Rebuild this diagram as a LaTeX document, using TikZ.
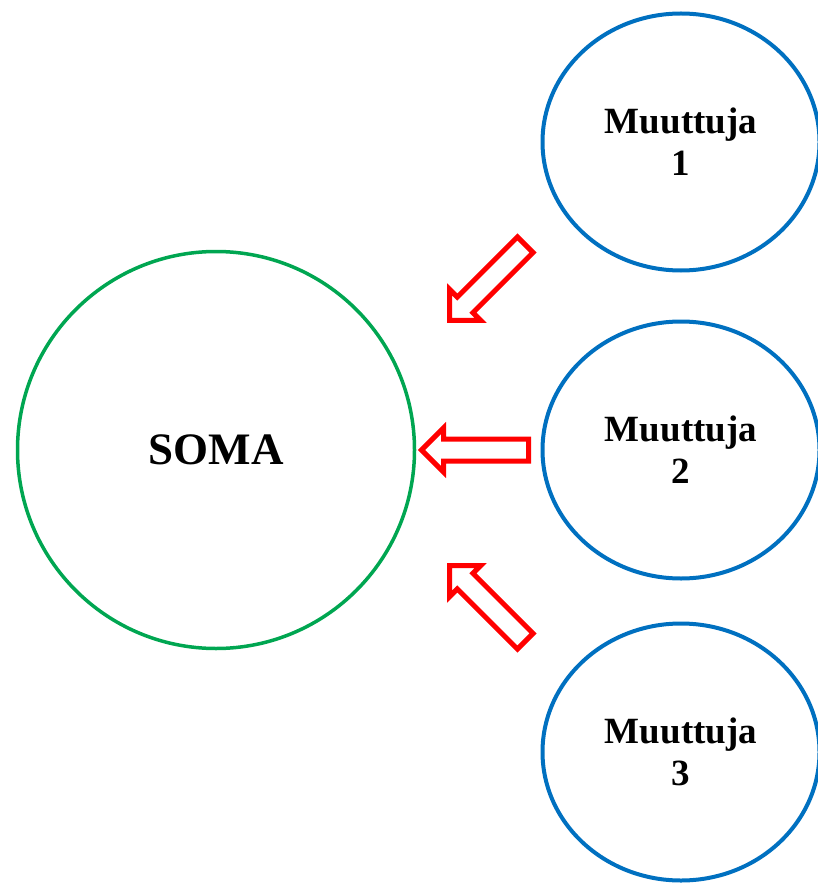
\documentclass[tikz,border=0pt]{standalone}
\usepackage{fontspec}
\setmainfont{Liberation Serif}
\usetikzlibrary{shapes.geometric,shapes.arrows}
\definecolor{somagreen}{RGB}{0,166,81}
\definecolor{varblue}{RGB}{0,112,192}
\definecolor{arrowred}{RGB}{255,0,0}
\begin{document}
\begin{tikzpicture}[x=1pt,y=1pt,
		soma/.style={circle,draw=somagreen,line width=3.5pt,minimum size=397pt,inner sep=0pt,
			font=\fontsize{45}{50}\selectfont\bfseries},
		muuttuja/.style={ellipse,draw=varblue,line width=4pt,minimum width=277pt,minimum height=257pt,
			inner sep=0pt,align=center,font=\fontsize{37}{42}\selectfont\bfseries},
		hollowarrow/.style={single arrow,draw=arrowred,line width=5pt,fill=white,inner xsep=0pt,
			inner ysep=8.5pt,minimum height=107pt,single arrow head extend=11pt,anchor=tail}]
		\useasboundingbox (0,0) rectangle (818,-885);
		% big circle
		\node [soma] (soma) at (216,-450) {SOMA};
		% variables on the right
		\node [muuttuja] (m1) at (681,-142) {Muuttuja\\1};
		\node [muuttuja] (m2) at (681,-450) {Muuttuja\\2};
		\node [muuttuja] (m3) at (681,-752) {Muuttuja\\3};
		% block arrows towards soma
		\node [hollowarrow,rotate=225] (a1) at (527,-243) {};
		\node [hollowarrow,rotate=180] (a2) at (531,-450) {};
		\node [hollowarrow,rotate=135] (a3) at (527,-643) {};
\end{tikzpicture}
\end{document}
